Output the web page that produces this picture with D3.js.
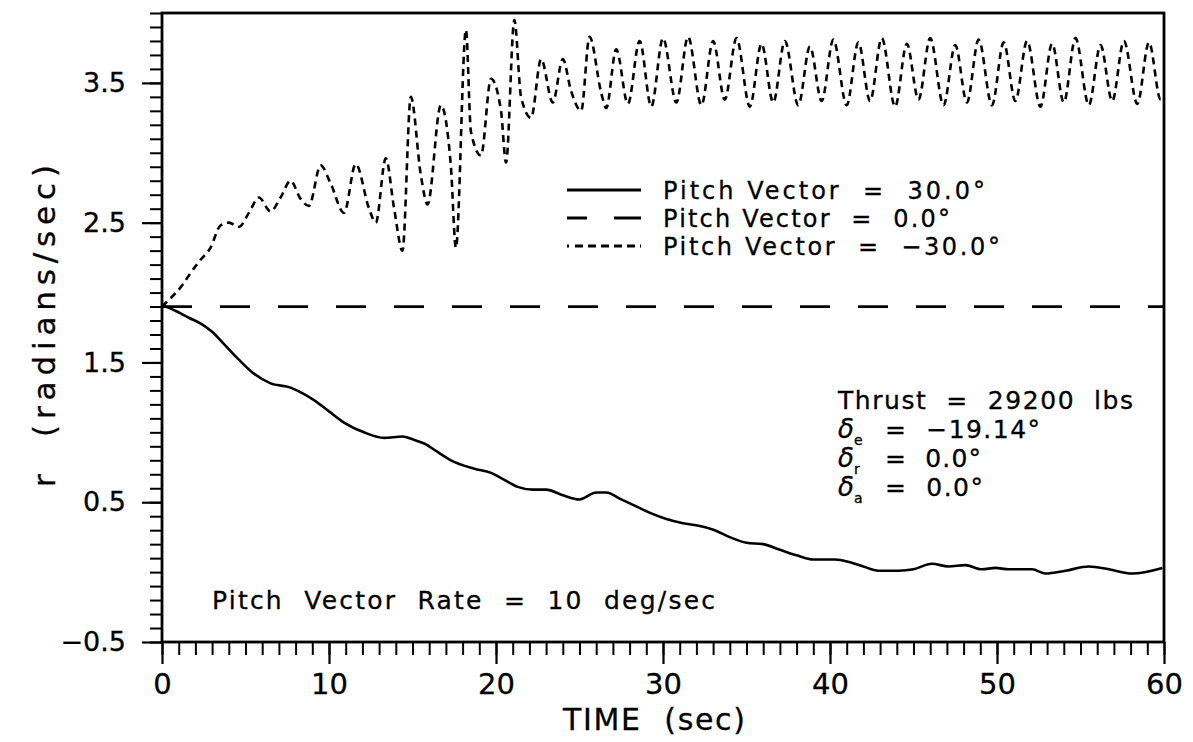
<!DOCTYPE html>
<html>
<head>
<meta charset="utf-8">
<script src="https://cdn.jsdelivr.net/npm/d3@7"></script>
<style>
  html, body { margin: 0; padding: 0; background: #fff; }
  svg { display: block; }
  text { font-family: "DejaVu Sans", "Liberation Sans", sans-serif; fill: #000; stroke: #000; stroke-width: 0.3; }
</style>
</head>
<body>
<svg id="chart" width="1193" height="742"></svg>
<script>
// ---------------- DATA ----------------
const xTickLabels = ["0", "10", "20", "30", "40", "50", "60"];
const yTickLabels = ["-0.5", "0.5", "1.5", "2.5", "3.5"];
const legendLabels = ["Pitch Vector  =  30.0°", "Pitch Vector  =  0.0°", "Pitch Vector  =  \u221230.0°"];

// Pitch Vector = 30.0 deg (solid)
const pv30Time = [0,0.8,1.6,2.3,3.0,3.8,4.6,5.5,6.5,7.7,8.4,9.1,10.0,10.9,12.1,13.3,14.4,15.0,15.7,16.5,17.3,18.7,19.7,20.5,21.3,22.2,23.0,24.0,25.0,26.0,26.6,27.5,28.4,29.3,30.2,31.2,32.2,33.1,34.0,35.0,36.0,37.0,38.0,39.0,40.3,41.2,42.0,42.9,44.1,45.0,46.1,47.1,48.1,49.1,49.9,50.7,52.1,52.9,54.1,55.5,56.7,58.1,59.9];
const pv30Value = [1.91,1.87,1.82,1.78,1.72,1.62,1.52,1.42,1.35,1.32,1.28,1.23,1.15,1.07,1.00,0.96,0.97,0.95,0.92,0.86,0.80,0.74,0.71,0.66,0.61,0.59,0.59,0.55,0.52,0.57,0.57,0.52,0.47,0.42,0.38,0.35,0.33,0.30,0.25,0.21,0.20,0.16,0.12,0.09,0.09,0.07,0.04,0.01,0.01,0.02,0.06,0.04,0.05,0.02,0.03,0.02,0.02,-0.01,0.01,0.04,0.02,-0.01,0.03];

// Pitch Vector = 0.0 deg (long dash)
const pv0Time = [0, 60];
const pv0Value = [1.9, 1.9];

// Pitch Vector = -30.0 deg (short dash)
const pvm30Time = [0,0.6,1.2,1.6,2.2,2.9,3.5,4.0,4.6,5.2,5.8,6.5,7.1,7.7,8.3,8.8,9.5,10.1,10.9,11.6,12.4,12.8,13.4,13.9,14.4,14.9,15.5,15.9,16.7,17.3,17.6,18.2,18.5,19.1,19.7,20.3,20.6,21.1,21.5,22.1,22.7,23.4,24.0,24.5,25.1,25.6,26.3,26.6,27.2,27.9,28.6,29.3,30.0,30.8,31.5,32.3,33.0,33.7,34.4,35.2,35.9,36.6,37.3,38.1,38.8,39.5,40.2,41.0,41.7,42.4,43.1,43.9,44.6,45.3,46.0,46.8,47.5,48.2,48.9,49.7,50.4,51.1,51.8,52.6,53.3,54.0,54.7,55.5,56.2,56.9,57.6,58.4,59.1,59.8,60.0];
const pvm30Value = [1.90,1.97,2.05,2.12,2.22,2.32,2.48,2.50,2.47,2.57,2.68,2.58,2.68,2.80,2.67,2.62,2.91,2.78,2.57,2.92,2.60,2.50,2.96,2.60,2.30,3.40,2.84,2.63,3.34,2.90,2.32,3.88,3.15,2.98,3.53,3.30,2.93,3.95,3.40,3.25,3.67,3.36,3.67,3.44,3.30,3.83,3.43,3.32,3.74,3.35,3.80,3.33,3.82,3.36,3.83,3.34,3.80,3.38,3.82,3.33,3.78,3.36,3.80,3.34,3.76,3.37,3.81,3.34,3.79,3.37,3.82,3.33,3.78,3.38,3.82,3.34,3.77,3.36,3.81,3.34,3.79,3.37,3.80,3.33,3.78,3.36,3.82,3.34,3.77,3.37,3.80,3.35,3.79,3.38,3.40];

// Annotations
const infoLines = ["Thrust  =  29200  lbs", "=  \u221219.14°", "=  0.0°", "=  0.0°"];
const infoSubs = ["e", "r", "a"];
const rateNote = "Pitch  Vector  Rate  =  10  deg/sec";
const xTitle = "TIME  (sec)";
const yTitle = "r  (radians/sec)";

// ---------------- LAYOUT ----------------
const L = 162, R = 1164, T = 13, B = 642;
const svg = d3.select("#chart");

const x = d3.scaleLinear().domain([0, 60]).range([L, R]);
const y = d3.scaleLinear().domain([-0.5, 4.0]).range([B, T]);

const xMinor = d3.range(0, 61, 1);
const yMinor = d3.range(-5, 41, 1).map(d => d / 10);

svg.append("g").attr("transform", `translate(0,${B})`)
  .call(d3.axisBottom(x).tickValues(xMinor).tickSize(13).tickFormat(""))
  .call(g => g.select(".domain").remove())
  .call(g => g.selectAll("line").attr("stroke", "#000").attr("stroke-width", 2));
svg.append("g").attr("transform", `translate(0,${B})`)
  .call(d3.axisBottom(x).tickValues(xTickLabels.map(Number)).tickSize(22).tickPadding(9)
    .tickFormat((d, i) => xTickLabels[i]))
  .call(g => g.select(".domain").remove())
  .call(g => g.selectAll("line").attr("stroke", "#000").attr("stroke-width", 2.2))
  .call(g => g.selectAll("text").attr("font-size", 29).attr("dy", "0.71em")
      .attr("font-family", "DejaVu Sans").attr("fill", "#000"));

svg.append("g").attr("transform", `translate(${L},0)`)
  .call(d3.axisLeft(y).tickValues(yMinor).tickSize(12).tickFormat(""))
  .call(g => g.select(".domain").remove())
  .call(g => g.selectAll("line").attr("stroke", "#000").attr("stroke-width", 2));
svg.append("g").attr("transform", `translate(${L},0)`)
  .call(d3.axisLeft(y).tickValues(yTickLabels.map(Number)).tickSize(20).tickPadding(16)
    .tickFormat((d, i) => yTickLabels[i].replace("-", "\u2212")))
  .call(g => g.select(".domain").remove())
  .call(g => g.selectAll("line").attr("stroke", "#000").attr("stroke-width", 2.2))
  .call(g => g.selectAll("text").attr("font-size", 27)
      .attr("font-family", "DejaVu Sans").attr("fill", "#000"));

// frame
svg.append("rect").attr("x", L).attr("y", T).attr("width", R - L).attr("height", B - T)
  .attr("fill", "none").attr("stroke", "#000").attr("stroke-width", 2.8);

// lines
const mk = (ts, vs) => ts.map((t, i) => [t, vs[i]]);
const line = d3.line().x(d => x(d[0])).y(d => y(d[1])).curve(d3.curveMonotoneX);

svg.append("path").datum(mk(pv30Time, pv30Value)).attr("d", line)
  .attr("fill", "none").attr("stroke", "#000").attr("stroke-width", 2.6);
svg.append("path").datum(mk(pv0Time, pv0Value)).attr("d", d3.line().x(d => x(d[0])).y(d => y(d[1])))
  .attr("fill", "none").attr("stroke", "#000").attr("stroke-width", 2.8)
  .attr("stroke-dasharray", "30,28");
svg.append("path").datum(mk(pvm30Time, pvm30Value)).attr("d", line)
  .attr("fill", "none").attr("stroke", "#000").attr("stroke-width", 2.6)
  .attr("stroke-dasharray", "7,5");

// legend
const legY = [190, 218, 246];
const legDash = [null, "20,27,30", "2,6,8,5,8,5,8,5,8,5,8,5"];
const legW = [322, 287, 337];
legendLabels.forEach((lab, i) => {
  const ln = svg.append("line").attr("x1", 567).attr("x2", 641).attr("y1", legY[i]).attr("y2", legY[i])
    .attr("stroke", "#000").attr("stroke-width", 2.8);
  if (legDash[i]) ln.attr("stroke-dasharray", legDash[i]);
  svg.append("text").attr("x", 663).attr("y", legY[i]).attr("dy", "0.36em")
    .attr("font-size", 24).attr("textLength", legW[i]).attr("lengthAdjust", "spacing")
    .style("white-space", "pre").text(lab);
});

// info block
const infoY = [400, 429, 458, 487];
svg.append("text").attr("x", 838).attr("y", infoY[0]).attr("dy", "0.36em").attr("font-size", 25)
  .attr("textLength", 295).attr("lengthAdjust", "spacing").style("white-space", "pre").text(infoLines[0]);
const restW = [155, 96, 98];
infoSubs.forEach((s, i) => {
  const yy = infoY[i + 1];
  const t = svg.append("text").attr("x", 838).attr("y", yy).attr("dy", "0.36em").attr("font-size", 26)
    .attr("font-style", "italic");
  t.append("tspan").text("δ");
  t.append("tspan").attr("font-size", 14).attr("font-style", "normal").attr("dy", "0.5em").text(s);
  svg.append("text").attr("x", 885).attr("y", yy).attr("dy", "0.36em").attr("font-size", 25)
    .attr("textLength", restW[i]).attr("lengthAdjust", "spacing").style("white-space", "pre").text(infoLines[i + 1]);
});

// rate note
svg.append("text").attr("x", 212).attr("y", 600).attr("dy", "0.36em").attr("font-size", 25)
  .attr("textLength", 503).attr("lengthAdjust", "spacing").style("white-space", "pre").text(rateNote);

// axis titles
svg.append("text").attr("x", 654).attr("y", 719).attr("dy", "0.36em").attr("text-anchor", "middle")
  .attr("font-size", 30).attr("textLength", 182).attr("lengthAdjust", "spacing")
  .style("white-space", "pre").text(xTitle);
svg.append("text").attr("transform", "translate(44,326) rotate(-90)").attr("dy", "0.36em")
  .attr("text-anchor", "middle").attr("font-size", 31).attr("textLength", 322).attr("lengthAdjust", "spacing")
  .style("white-space", "pre").text(yTitle);
</script>
</body>
</html>
